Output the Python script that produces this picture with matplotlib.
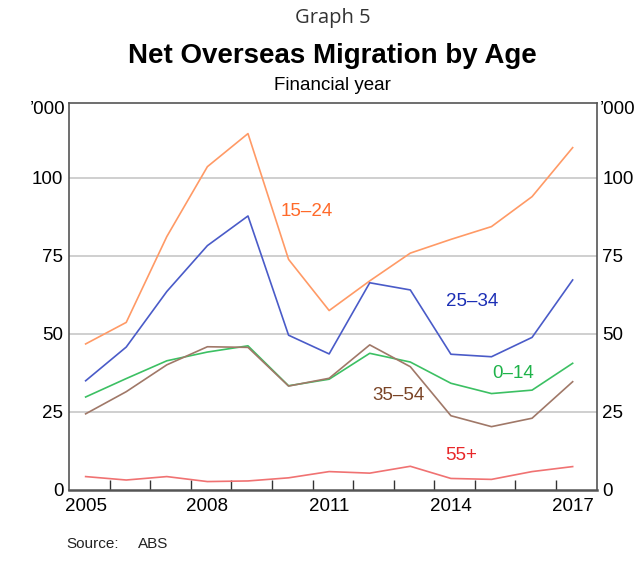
import matplotlib
matplotlib.use("Agg")
import matplotlib.pyplot as plt
import numpy as np

plt.rcParams['font.family'] = ['Liberation Sans', 'DejaVu Sans']

years = [2005, 2006, 2007, 2008, 2009, 2010, 2011, 2012, 2013, 2014, 2015, 2016, 2017]
age_0_14 = [29.8, 35.7, 41.4, 44.2, 46.2, 33.4, 35.5, 43.8, 41.0, 34.2, 30.9, 32.0, 40.6]
age_15_24 = [46.8, 53.7, 81.2, 103.6, 114.2, 73.9, 57.5, 67.0, 75.9, 80.3, 84.4, 94.0, 109.7]
age_25_34 = [35.0, 45.8, 63.6, 78.3, 87.8, 49.6, 43.6, 66.4, 64.1, 43.5, 42.7, 48.9, 67.3]
age_35_54 = [24.4, 31.5, 40.1, 45.9, 45.7, 33.3, 35.8, 46.5, 39.5, 23.8, 20.3, 23.0, 34.7]
age_55_plus = [4.3, 3.2, 4.3, 2.7, 2.9, 3.9, 5.9, 5.4, 7.6, 3.7, 3.4, 5.9, 7.5]

y_ticks = [0, 25, 50, 75, 100]
x_labels = [2005, 2008, 2011, 2014, 2017]

series = [
    ("15–24", age_15_24, "#ff9a66", "#ff6a2a", 307, 212),
    ("25–34", age_25_34, "#4a5bc8", "#1c2fb5", 472, 302),
    ("0–14", age_0_14, "#3cc063", "#1fb34a", 513, 373),
    ("35–54", age_35_54, "#a07868", "#7a4426", 398, 395),
    ("55+", age_55_plus, "#f07272", "#e8282a", 461, 456),
]

W, H = 643, 569
fig = plt.figure(figsize=(W / 100, H / 100), dpi=100)
L, R, T, B = 69, 596.6, 103, 490
ax = fig.add_axes([L / W, 1 - B / H, (R - L) / W, (B - T) / H])

for name, vals, lc, tc, tx, ty in series:
    ax.plot(years, vals, color=lc, lw=1.2, zorder=3)

ax.set_xlim(2004.59, 2017.59)
ax.set_ylim(0, 124)

for y in y_ticks[1:]:
    ax.axhline(y, color="#cccccc", lw=1.3, zorder=1)

ax.set_yticks(y_ticks)
ax.set_yticklabels([str(v) for v in y_ticks])
ax.tick_params(axis='y', which='both', length=0, labelsize=13.5, pad=4,
               left=False, right=False, labelleft=True, labelright=True)

ax.set_xticks(x_labels)
ax.set_xticklabels([str(v) for v in x_labels])
ax.set_xticks(np.arange(2005.59, 2017.0, 1.0), minor=True)
ax.tick_params(axis='x', which='major', length=0, labelsize=13.5, pad=6)
ax.tick_params(axis='x', which='minor', length=7, direction='in', width=1, color="#333333")

for s in ax.spines.values():
    s.set_color("#555555")
    s.set_linewidth(1.2)
ax.spines['bottom'].set_linewidth(1.8)

# '000 labels
fig.text((L - 4) / W, 1 - 110 / H, "’000", ha='right', va='center', fontsize=13.5)
fig.text((R + 3) / W, 1 - 110 / H, "’000", ha='left', va='center', fontsize=13.5)

# Series labels
for name, vals, lc, tc, tx, ty in series:
    fig.text(tx / W, 1 - ty / H, name, color=tc, ha='center', va='center', fontsize=13.5)

# Titles
cx = (L + R) / 2 / W
fig.text(cx, 1 - 18 / H, "Graph 5", ha='center', va='center', fontsize=14.5, color="#333333",
         family=['Open Sans', 'DejaVu Sans'])
fig.text(cx, 1 - 56 / H, "Net Overseas Migration by Age", ha='center', va='center',
         fontsize=20, fontweight='bold')
fig.text(cx, 1 - 85 / H, "Financial year", ha='center', va='center', fontsize=13.5)

fig.text(66 / W, 1 - 544 / H, "Source:", ha='left', va='center', fontsize=11, color="#222222")
fig.text(138 / W, 1 - 544 / H, "ABS", ha='left', va='center', fontsize=11, color="#222222")

fig.savefig("out.png", dpi=100)
